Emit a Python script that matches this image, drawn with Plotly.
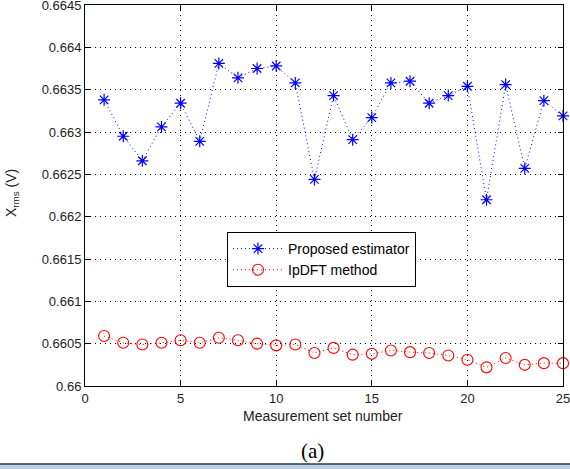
import plotly.graph_objects as go

sets = list(range(1, 26))
proposed = [0.66338, 0.66295, 0.66266, 0.66306, 0.66334, 0.66289, 0.66381, 0.66364, 0.66375, 0.66378,
            0.66358, 0.66244, 0.66343, 0.66291, 0.66317, 0.66358, 0.66360, 0.66334, 0.66343, 0.66354,
            0.66220, 0.66356, 0.66257, 0.66337, 0.66319]
ipdft = [0.66059, 0.66051, 0.66049, 0.66051, 0.66054, 0.66051, 0.66057, 0.66054, 0.66050, 0.66048,
         0.66049, 0.66039, 0.66045, 0.66037, 0.66038, 0.66042, 0.66040, 0.66039, 0.66036, 0.66031,
         0.66022, 0.66033, 0.66025, 0.66027, 0.66027]
xticks = [0, 5, 10, 15, 20, 25]
yticks = [0.66, 0.6605, 0.661, 0.6615, 0.662, 0.6625, 0.663, 0.6635, 0.664, 0.6645]
ytick_text = ["0.66", "0.6605", "0.661", "0.6615", "0.662", "0.6625", "0.663", "0.6635", "0.664", "0.6645"]

L, R, T, B = 85, 563, 5, 386
PW, PH = R - L, B - T

fig = go.Figure()
fig.add_trace(go.Scatter(
    x=sets, y=proposed, mode="lines+markers", name="Proposed estimator",
    line=dict(color="blue", width=1, dash="1px,3px"),
    marker=dict(symbol="asterisk-open", size=10, color="blue", line=dict(color="blue", width=1.2)),
    cliponaxis=False,
))
fig.add_trace(go.Scatter(
    x=sets, y=ipdft, mode="lines+markers", name="IpDFT method",
    line=dict(color="red", width=1, dash="1px,3px"),
    marker=dict(symbol="circle-open", size=11, color="red", line=dict(color="red", width=1.1)),
    cliponaxis=False,
))

axis_common = dict(
    showline=True, linecolor="black", linewidth=1, mirror="ticks",
    ticks="inside", ticklen=5, tickcolor="black",
    showgrid=True, gridcolor="black", gridwidth=1, griddash="1px,4px",
    zeroline=False, automargin=False, ticklabeloverflow="allow",
    tickfont=dict(family="Arial, Liberation Sans", size=13, color="#222"),
)

fig.update_xaxes(range=[0, 25.0001], tickvals=xticks, **axis_common)
fig.update_yaxes(range=[0.66, 0.6645001], tickvals=yticks, ticktext=ytick_text, **axis_common)

title_font = dict(family="Arial, Liberation Sans", size=14, color="#222")
fig.add_annotation(text="Measurement set number", xref="paper", yref="paper",
                   x=(323 - L) / PW, y=-(416 - B) / PH, showarrow=False, font=title_font,
                   xanchor="center", yanchor="middle")
fig.add_annotation(text="X<sub>rms</sub> (V)", xref="paper", yref="paper", textangle=-90,
                   x=(12 - L) / PW, y=(B - 193) / PH, showarrow=False, font=title_font,
                   xanchor="center", yanchor="middle")
fig.add_annotation(text="(a)", xref="paper", yref="paper", x=(312 - L) / PW, y=-(451 - B) / PH,
                   showarrow=False, font=dict(family="Times New Roman, Liberation Serif", size=21, color="black"),
                   xanchor="center", yanchor="middle")

# bottom window strip
fig.add_shape(type="rect", xref="paper", yref="paper", x0=-L / PW, x1=(570 - L) / PW,
              y0=-(469 - B) / PH, y1=-(464 - B) / PH, fillcolor="#b8cfe6", line=dict(width=0), layer="above")
fig.add_shape(type="line", xref="paper", yref="paper", x0=-L / PW, x1=(570 - L) / PW,
              y0=-(464 - B) / PH, y1=-(464 - B) / PH, line=dict(color="#2a3a4a", width=1.5))

fig.update_layout(
    width=570, height=469,
    margin=dict(l=L, r=570 - R, t=T, b=469 - B, autoexpand=False),
    paper_bgcolor="white", plot_bgcolor="white",
    showlegend=True,
    legend=dict(x=(227 - L) / PW, y=(B - 232) / PH, xanchor="left", yanchor="top",
                bgcolor="white", bordercolor="black", borderwidth=1,
                font=dict(family="Arial, Liberation Sans", size=14, color="black"),
                itemwidth=50, tracegroupgap=0),
)

fig.write_html("out.html", config={"displayModeBar": False},
               post_script="document.body.style.margin='0';document.body.style.overflow='hidden';")
